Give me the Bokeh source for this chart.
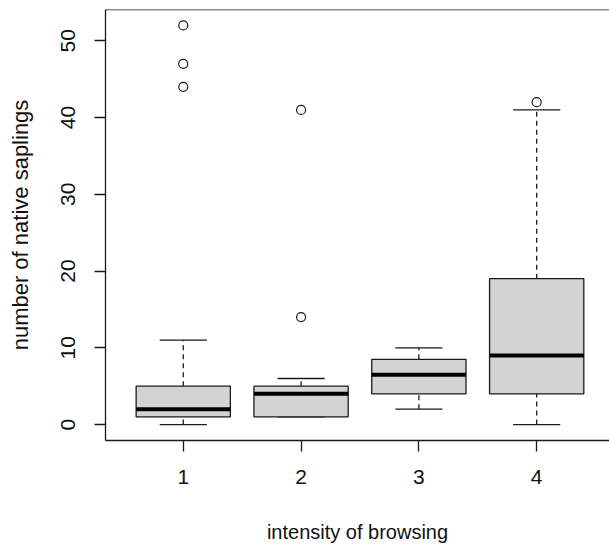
from bokeh.plotting import figure
from bokeh.models import Range1d, FixedTicker, Span
from bokeh.embed import file_html
from bokeh.resources import INLINE

# ---- data ----
groups = [1, 2, 3, 4]
lower_whisker = [0, 1, 2, 0]
q1 = [1, 1, 4, 4]
median = [2, 4, 6.5, 9]
q3 = [5, 5, 8.5, 19]
upper_whisker = [11, 6, 10, 41]
outlier_group = [1, 1, 1, 2, 2, 4]
outlier_value = [44, 47, 52, 14, 41, 42]
x_ticks = [1, 2, 3, 4]
y_ticks = [0, 10, 20, 30, 40, 50]

BOX_W = 0.8
CAP_W = 0.4
FONT = "Liberation Sans"
INK = "#1a1a1a"

p = figure(width=609, height=545, output_backend="svg", toolbar_location=None,
           x_range=Range1d(0.34, 4.618), y_range=Range1d(-2.08, 54.08),
           min_border_left=105, min_border_right=0, min_border_top=9, min_border_bottom=105)
p.background_fill_color = "white"
p.border_fill_color = "white"
p.outline_line_color = None
p.xgrid.visible = False
p.ygrid.visible = False

# whiskers (dashed) and caps
p.segment(x0=groups, x1=groups, y0=q3, y1=upper_whisker, line_color=INK, line_width=1.3, line_dash="5 4")
p.segment(x0=groups, x1=groups, y0=lower_whisker, y1=q1, line_color=INK, line_width=1.3, line_dash="5 4")
p.segment(x0=[g - CAP_W / 2 for g in groups], x1=[g + CAP_W / 2 for g in groups],
          y0=upper_whisker, y1=upper_whisker, line_color=INK, line_width=1.3)
p.segment(x0=[g - CAP_W / 2 for g in groups], x1=[g + CAP_W / 2 for g in groups],
          y0=lower_whisker, y1=lower_whisker, line_color=INK, line_width=1.3)

# boxes
p.vbar(x=groups, width=BOX_W, bottom=q1, top=q3, fill_color="#D3D3D3",
       line_color=INK, line_width=1.3)
# medians
p.segment(x0=[g - BOX_W / 2 for g in groups], x1=[g + BOX_W / 2 for g in groups],
          y0=median, y1=median, line_color="black", line_width=4)
# outliers
p.scatter(x=outlier_group, y=outlier_value, marker="circle", size=9,
          fill_color=None, line_color=INK, line_width=1.2)

# top frame line
p.add_layout(Span(location=54.08, dimension="width", line_color=INK, line_width=1.3))

for ax in (p.xaxis[0], p.yaxis[0]):
    ax.axis_line_color = INK
    ax.axis_line_width = 1.3
    ax.major_tick_line_color = INK
    ax.major_tick_line_width = 1.3
    ax.major_tick_in = 0
    ax.major_tick_out = 11
    ax.minor_tick_line_color = None
    ax.major_label_text_font = FONT
    ax.major_label_text_font_size = "21px"
    ax.major_label_text_color = "#111111"
    ax.axis_label_text_font = FONT
    ax.axis_label_text_font_style = "normal"
    ax.axis_label_text_color = "#111111"

p.xaxis.axis_label_text_font_size = "20px"
p.yaxis.axis_label_text_font_size = "22px"
p.xaxis.major_label_standoff = 18
p.yaxis.major_label_standoff = 19
p.xaxis.ticker = FixedTicker(ticks=x_ticks)
p.yaxis.ticker = FixedTicker(ticks=y_ticks)
p.yaxis.major_label_orientation = "vertical"
p.xaxis.axis_label = "intensity of browsing"
p.yaxis.axis_label = "number of native saplings"
p.xaxis.axis_label_standoff = 34
p.yaxis.axis_label_standoff = 26

open("out.html", "w").write(file_html(p, INLINE))
